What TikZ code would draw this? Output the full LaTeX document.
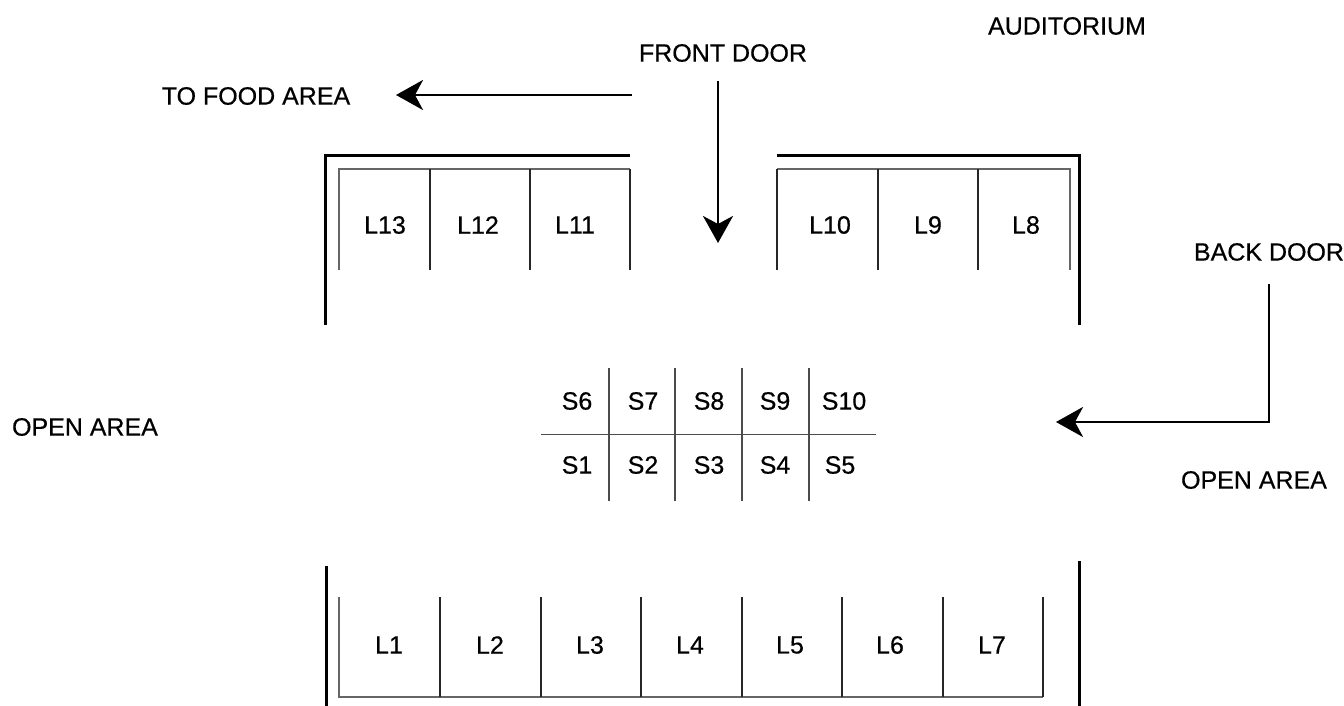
\documentclass[tikz,border=0pt]{standalone}
\usepackage{fontspec}
\setmainfont[FakeBold=0.5]{Liberation Sans}
\usetikzlibrary{arrows.meta}
\tikzset{
	wall/.style={line width=3pt, color=black},
	booth/.style={line width=2pt, color=black!85},
	rim/.style={line width=1.5pt, color=black!60},
	stall/.style={line width=1.4pt, color=black!70},
	lbl/.style={inner sep=0pt, font=\fontsize{25}{30}\selectfont},
	route/.style={line width=2.8pt, color=black, -{Stealth[length=27pt,width=30pt,inset=8pt]}},
}
\begin{document}
\begin{tikzpicture}[x=1pt,y=-1pt]
	\useasboundingbox (0,0) rectangle (1344,706);

	% outer walls
	\draw[wall] (325,325) -- (325,156) -- (630,156);
	\draw[wall] (777,156) -- (1079,156) -- (1079,325);
	\draw[wall] (326,566) -- (326,706);
	\draw[wall] (1079,561) -- (1079,706);

	% top booths
	\draw[rim] (339,270) -- (339,169) -- (630,169);
	\draw[rim] (777,169) -- (1070,169) -- (1070,270);
	\foreach \x in {430,530,630,777,878,978}
		\draw[booth] (\x,169) -- (\x,270);

	% bottom booths
	\draw[rim] (339,597) -- (339,697) -- (1043,697);
	\foreach \x in {440,541,641,742,842,943,1043}
		\draw[booth] (\x,597) -- (\x,697);

	% centre stalls
	\draw[stall, line width=1pt] (541,434) -- (876,434);
	\foreach \x in {609,675,742,809}
		\draw[stall] (\x,368) -- (\x,501);

	% labels
	\foreach \name/\x in {L13/385,L12/478,L11/575,L10/830,L9/928,L8/1026}
		\node[lbl] (\name) at (\x,225) {\name};
	\foreach \name/\x in {L1/389,L2/490,L3/590,L4/690,L5/790,L6/890,L7/992}
		\node[lbl] (\name) at (\x,645) {\name};
	\foreach \name/\x in {S6/577,S7/643,S8/709,S9/775,S10/844}
		\node[lbl] (\name) at (\x,401) {\name};
	\foreach \name/\x in {S1/577,S2/643,S3/709,S4/775,S5/840}
		\node[lbl] (\name) at (\x,465) {\name};

	\node[lbl] (auditorium) at (1067,26) {AUDITORIUM};
	\node[lbl] (frontdoor) at (723,53) {FRONT DOOR};
	\node[lbl] (foodarea) at (256,96) {TO FOOD AREA};
	\node[lbl] (backdoor) at (1269,252) {BACK DOOR};
	\node[lbl] (openleft) at (85,427) {OPEN AREA};
	\node[lbl] (openright) at (1254,480) {OPEN AREA};

	% arrows
	\coordinate (foodstart) at (632,95);
	\coordinate (foodend) at (396,95);
	\coordinate (frontstart) at (718,81);
	\coordinate (frontend) at (718,243);
	\coordinate (backstart) at (1269,284);
	\coordinate (backend) at (1056,422);
	\draw[route] (foodstart) -- (foodend);
	\draw[route] (frontstart) -- (frontend);
	\draw[route] (backstart) |- (backend);
\end{tikzpicture}
\end{document}
